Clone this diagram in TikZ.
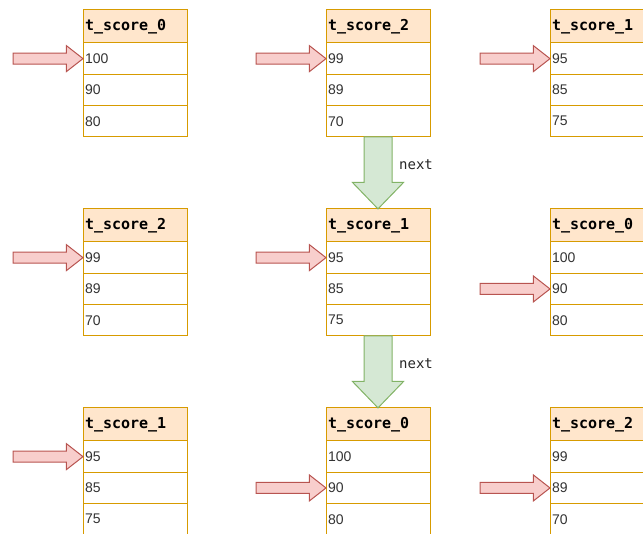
\documentclass[tikz,border=0pt]{standalone}
\usepackage{fontspec}
\setmainfont{Liberation Sans}
\newfontfamily\headfont{DejaVu Sans Mono}
\usetikzlibrary{shapes.arrows,positioning}

\definecolor{hdrfill}{HTML}{FFE6CC}
\definecolor{hdrline}{HTML}{D79B00}
\definecolor{ptrfill}{HTML}{F8CECC}
\definecolor{ptrline}{HTML}{B85450}
\definecolor{nxtfill}{HTML}{D5E8D4}
\definecolor{nxtline}{HTML}{82B366}

% one table: name, top left corner, title, three values
\newcommand{\scoretab}[6]{%
\node[hdr, anchor=north west] (#1h) at (#2) {#3};
\node[cell, below=0pt of #1h] (#1a) {#4};
\node[cell, below=0pt of #1a] (#1b) {#5};
\node[cell, below=0pt of #1b] (#1c) {#6};
}

\begin{document}
\begin{tikzpicture}[x=1pt,y=-1pt,
  hdr/.style={draw=hdrline, fill=hdrfill, line width=1pt, text width=100pt, align=left,
    inner xsep=2pt, inner ysep=0pt, outer sep=0pt, minimum height=33pt,
    font=\headfont\bfseries\fontsize{15}{15}\selectfont},
  cell/.style={draw=hdrline, fill=white, line width=1pt, text width=100pt, align=left,
    inner xsep=2pt, inner ysep=0pt, outer sep=0pt, minimum height=31.3pt,
    text=black!80, font=\fontsize{14}{14}\selectfont},
  ptr/.style={single arrow, draw=ptrline, fill=ptrfill, line width=1pt,
    minimum height=70pt, text height=5pt, text depth=5pt, single arrow head extend=7.5pt,
    single arrow tip angle=76, inner sep=0pt, outer sep=0pt},
  nxt/.style={single arrow, draw=nxtline, fill=nxtfill, line width=1pt, rotate=-90,
    minimum height=72pt, text height=13.5pt, text depth=13.5pt, single arrow head extend=11.5pt,
    single arrow tip angle=88, inner sep=0pt, outer sep=0pt},
  lbl/.style={font=\headfont\fontsize{14}{14}\selectfont, text=black!85}]
\useasboundingbox (0,0) rectangle (643,534);

% first row
\scoretab{ta}{83,10}{t\_score\_0}{100}{90}{80}
\scoretab{tb}{326,10}{t\_score\_2}{99}{89}{70}
\scoretab{tc}{550,10}{t\_score\_1}{95}{85}{75}
\node[ptr, anchor=tip] (pa) at (taa.west) {};
\node[ptr, anchor=tip] (pb) at (tba.west) {};
\node[ptr, anchor=tip] (pc) at (tca.west) {};

% second row
\scoretab{td}{83,209}{t\_score\_2}{99}{89}{70}
\scoretab{te}{326,209}{t\_score\_1}{95}{85}{75}
\scoretab{tf}{550,209}{t\_score\_0}{100}{90}{80}
\node[ptr, anchor=tip] (pd) at (tda.west) {};
\node[ptr, anchor=tip] (pe) at (tea.west) {};
\node[ptr, anchor=tip] (pf) at (tfb.west) {};

% third row
\scoretab{tg}{83,408}{t\_score\_1}{95}{85}{75}
\scoretab{th}{326,408}{t\_score\_0}{100}{90}{80}
\scoretab{ti}{550,408}{t\_score\_2}{99}{89}{70}
\node[ptr, anchor=tip] (pg) at (tga.west) {};
\node[ptr, anchor=tip] (ph) at (thb.west) {};
\node[ptr, anchor=tip] (pi) at (tib.west) {};

% next steps
\node[nxt, anchor=tail] (na) at (tbc.south) {};
\node[lbl] (la) at (416,165) {next};
\node[nxt, anchor=tail] (nb) at (tec.south) {};
\node[lbl] (lb) at (416,364) {next};
\end{tikzpicture}
\end{document}
